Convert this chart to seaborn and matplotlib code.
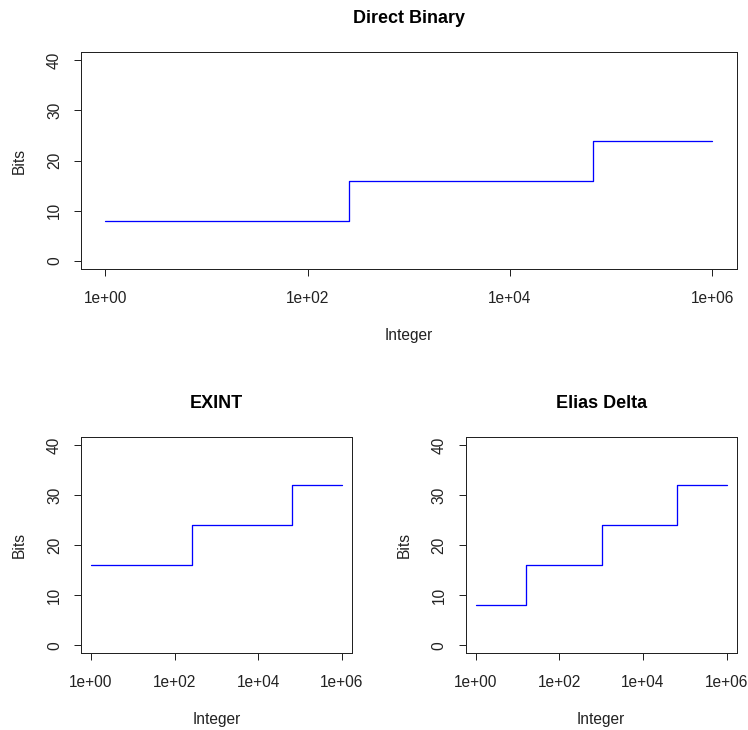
import numpy as np
import pandas as pd
import matplotlib
matplotlib.use("Agg")
import matplotlib.pyplot as plt
import seaborn as sns

# step data: integer where bit count changes, and the bit count from there on
direct_x = [1, 256, 65536, 1e6]
direct_bits = [8, 16, 24, 24]

exint_x = [1, 256, 65536, 1e6]
exint_bits = [16, 24, 32, 32]

delta_x = [1, 16, 1024, 65536, 1e6]
delta_bits = [8, 16, 24, 32, 32]

xtick_vals = [1, 1e2, 1e4, 1e6]
xtick_labels = ["1e+00", "1e+02", "1e+04", "1e+06"]
ytick_vals = [0, 10, 20, 30, 40]

sns.set_theme(style="ticks")
plt.rcParams["font.family"] = ["Liberation Sans", "DejaVu Sans"]
plt.rcParams["axes.linewidth"] = 1.0
plt.rcParams["axes.edgecolor"] = "#222222"

DPI = 72
fig = plt.figure(figsize=(748 / DPI, 730 / DPI), dpi=DPI)
fig.patch.set_facecolor("white")

ax_top = fig.add_axes([81 / 748, 461 / 730, 655.7 / 748, 216.7 / 730])
ax_bl = fig.add_axes([81 / 748, 76.7 / 730, 271 / 748, 216.3 / 730])
ax_br = fig.add_axes([465.7 / 748, 76.7 / 730, 271 / 748, 216.3 / 730])

panels = [
    (ax_top, direct_x, direct_bits, "Direct Binary"),
    (ax_bl, exint_x, exint_bits, "EXINT"),
    (ax_br, delta_x, delta_bits, "Elias Delta"),
]

for ax, xs, ys, title in panels:
    df = pd.DataFrame({"Integer": xs, "Bits": ys})
    sns.lineplot(data=df, x="Integer", y="Bits", ax=ax, color="#0000FF",
                 linewidth=1.3, drawstyle="steps-post", estimator=None, sort=False)
    ax.set_xscale("log")
    ax.set_xlim(10 ** -0.24, 10 ** 6.24)
    ax.set_ylim(-1.6, 41.6)
    ax.set_xticks(xtick_vals)
    ax.set_xticklabels(xtick_labels)
    ax.minorticks_off()
    ax.set_yticks(ytick_vals)
    ax.set_yticklabels([str(v) for v in ytick_vals], rotation=90, va="center")
    ax.tick_params(axis="both", direction="out", length=7, width=1.0,
                   color="#222222", labelsize=15.5, labelcolor="#222222")
    ax.tick_params(axis="x", pad=15)
    ax.tick_params(axis="y", pad=12)
    for sp in ax.spines.values():
        sp.set_visible(True)
        sp.set_color("#222222")
        sp.set_linewidth(1.0)
    ax.set_xlabel("Integer", fontsize=15.5, labelpad=22, color="#222222")
    ax.set_ylabel("Bits", fontsize=15.5, labelpad=20, color="#222222")
    ax.set_title(title, fontsize=18, fontweight="bold", pad=29, color="black")

fig.savefig("out.png", dpi=DPI, facecolor="white")
